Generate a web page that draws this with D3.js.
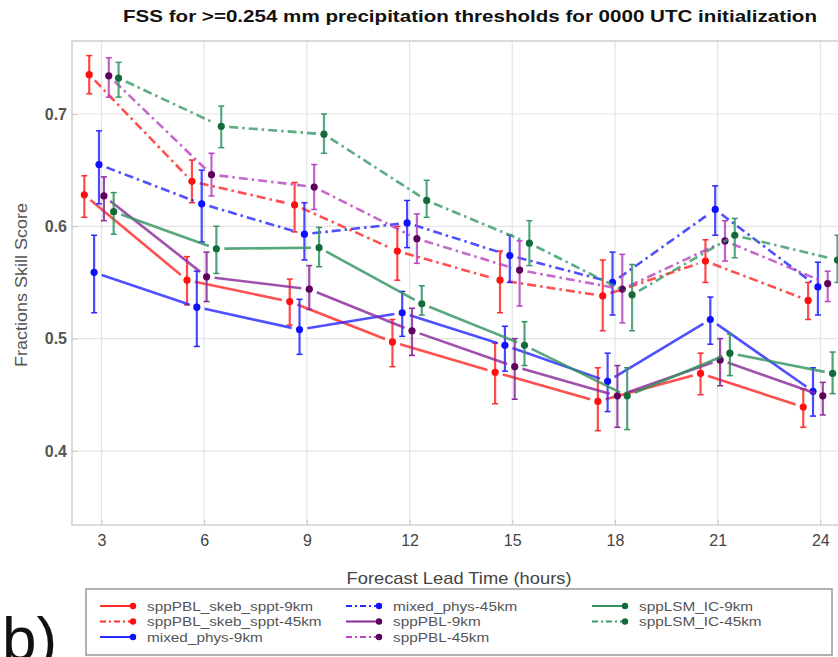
<!DOCTYPE html>
<html><head><meta charset="utf-8">
<script src="https://cdn.jsdelivr.net/npm/d3@7"></script>
<style>
body{margin:0;background:#fff;}
svg{display:block;font-family:"Liberation Sans",Arial,sans-serif;}
</style></head>
<body>
<svg id="c" width="838" height="657"></svg>
<script>
// ---- data ----
const hours = [3, 6, 9, 12, 15, 18, 21, 24];
const xTicks = [3, 6, 9, 12, 15, 18, 21, 24];
const yTicks = [0.4, 0.5, 0.6, 0.7];

const seriesNames = ["sppPBL_skeb_sppt-9km", "sppPBL_skeb_sppt-45km", "mixed_phys-9km", "mixed_phys-45km",
                     "sppPBL-9km", "sppPBL-45km", "sppLSM_IC-9km", "sppLSM_IC-45km"];

const red9     = [0.628, 0.552, 0.533, 0.497, 0.470, 0.444, 0.469, 0.439];
const red9Lo   = [0.608, 0.530, 0.512, 0.475, 0.442, 0.418, 0.450, 0.421];
const red9Hi   = [0.645, 0.573, 0.553, 0.517, 0.496, 0.474, 0.487, 0.455];
const red45    = [0.735, 0.640, 0.619, 0.578, 0.552, 0.538, 0.569, 0.534];
const red45Lo  = [0.718, 0.621, 0.595, 0.552, 0.523, 0.507, 0.550, 0.517];
const red45Hi  = [0.752, 0.659, 0.639, 0.600, 0.578, 0.570, 0.588, 0.550];
const blue9    = [0.559, 0.528, 0.508, 0.523, 0.494, 0.462, 0.517, 0.453];
const blue9Lo  = [0.523, 0.493, 0.486, 0.502, 0.471, 0.435, 0.495, 0.431];
const blue9Hi  = [0.592, 0.560, 0.535, 0.542, 0.511, 0.487, 0.537, 0.474];
const blue45   = [0.655, 0.620, 0.593, 0.603, 0.574, 0.550, 0.615, 0.546];
const blue45Lo = [0.620, 0.586, 0.570, 0.581, 0.550, 0.521, 0.592, 0.521];
const blue45Hi = [0.685, 0.650, 0.621, 0.623, 0.592, 0.577, 0.636, 0.568];
const purple9    = [0.627, 0.555, 0.544, 0.507, 0.475, 0.449, 0.481, 0.449];
const purple9Lo  = [0.605, 0.533, 0.526, 0.485, 0.446, 0.421, 0.458, 0.432];
const purple9Hi  = [0.644, 0.577, 0.565, 0.527, 0.500, 0.476, 0.500, 0.461];
const purple45   = [0.734, 0.646, 0.635, 0.589, 0.561, 0.544, 0.587, 0.549];
const purple45Lo = [0.715, 0.627, 0.615, 0.567, 0.529, 0.514, 0.569, 0.533];
const purple45Hi = [0.750, 0.665, 0.655, 0.611, 0.587, 0.575, 0.605, 0.560];
const green9    = [0.613, 0.580, 0.581, 0.531, 0.494, 0.449, 0.487, 0.469];
const green9Lo  = [0.593, 0.558, 0.564, 0.521, 0.476, 0.419, 0.467, 0.451];
const green9Hi  = [0.630, 0.600, 0.599, 0.547, 0.515, 0.474, 0.504, 0.488];
const green45   = [0.732, 0.689, 0.682, 0.623, 0.585, 0.539, 0.592, 0.570];
const green45Lo = [0.715, 0.670, 0.665, 0.608, 0.565, 0.507, 0.572, 0.550];
const green45Hi = [0.746, 0.707, 0.700, 0.641, 0.605, 0.566, 0.607, 0.592];

const seriesValues = [red9, red45, blue9, blue45, purple9, purple45, green9, green45];
const seriesLo = [red9Lo, red45Lo, blue9Lo, blue45Lo, purple9Lo, purple45Lo, green9Lo, green45Lo];
const seriesHi = [red9Hi, red45Hi, blue9Hi, blue45Hi, purple9Hi, purple45Hi, green9Hi, green45Hi];

// ---- styles ----
const lineColors = ["#ff2a2a", "#ff2a2a", "#2a2aff", "#2a2aff", "#8a2a9a", "#b845c0", "#339460", "#3a9a68"];
const markColors = ["#ff1010", "#ff1010", "#1010ff", "#1010ff", "#5e005e", "#5e005e", "#146b3a", "#146b3a"];
const dashed = [false, true, false, true, false, true, false, true];
const dashPattern = "9,4,2.5,4";

const svg = d3.select("#c");
const plot = {left: 72, right: 870, top: 41, bottom: 525};

const x = d3.scaleLinear().domain([2.14, 25.45]).range([plot.left, plot.right]);
const y = d3.scaleLinear().domain([0.334, 0.765]).range([plot.bottom, plot.top]);

// grid
const g = svg.append("g");
g.selectAll(".vg").data(xTicks).enter().append("line")
  .attr("x1", d => x(d)).attr("x2", d => x(d)).attr("y1", plot.top).attr("y2", plot.bottom)
  .attr("stroke", "#e4e4e4").attr("stroke-width", 1.2);
g.selectAll(".hg").data(yTicks).enter().append("line")
  .attr("x1", plot.left).attr("x2", plot.right).attr("y1", d => y(d)).attr("y2", d => y(d))
  .attr("stroke", "#e4e4e4").attr("stroke-width", 1.2);

// frame
g.append("rect").attr("x", plot.left).attr("y", plot.top)
  .attr("width", plot.right - plot.left).attr("height", plot.bottom - plot.top)
  .attr("fill", "none").attr("stroke", "#cfcfcf").attr("stroke-width", 1.5);

// axes (tick labels)
const xAxis = d3.axisBottom(x).tickValues(xTicks).tickSize(-5).tickPadding(9).tickFormat(d3.format("d"));
const xa = svg.append("g").attr("transform", `translate(0,${plot.bottom})`).call(xAxis);
xa.select(".domain").remove();
xa.selectAll(".tick line").attr("stroke", "#c8c8c8");
xa.selectAll("text").attr("font-size", 16).attr("fill", "#444").attr("font-family", "Liberation Sans, Arial, sans-serif").attr("dy", "0.75em");

const yAxis = d3.axisLeft(y).tickValues(yTicks).tickSize(-5).tickPadding(5).tickFormat(d3.format(".1f"));
const ya = svg.append("g").attr("transform", `translate(${plot.left},0)`).call(yAxis);
ya.select(".domain").remove();
ya.selectAll(".tick line").attr("stroke", "#c8c8c8");
ya.selectAll("text").attr("font-size", 16).attr("font-weight", "bold").attr("fill", "#555").attr("font-family", "Liberation Sans, Arial, sans-serif");

// title & labels
svg.append("text").attr("x", 470).attr("y", 22).attr("text-anchor", "middle")
  .attr("font-size", 17).attr("font-weight", "bold").attr("fill", "#111")
  .attr("textLength", 694).attr("lengthAdjust", "spacingAndGlyphs")
  .text("FSS for >=0.254 mm precipitation thresholds for 0000 UTC initialization");
svg.append("text").attr("transform", "translate(27,285) rotate(-90)").attr("text-anchor", "middle")
  .attr("font-size", 17).attr("fill", "#555")
  .attr("textLength", 164).attr("lengthAdjust", "spacingAndGlyphs")
  .text("Fractions Skill Score");
svg.append("text").attr("x", 459).attr("y", 584).attr("text-anchor", "middle")
  .attr("font-size", 17).attr("fill", "#444")
  .attr("textLength", 225).attr("lengthAdjust", "spacingAndGlyphs")
  .text("Forecast Lead Time (hours)");
svg.append("text").attr("x", 2).attr("y", 660).attr("font-size", 62).attr("fill", "#111").text("b)");

// series
const offsets = seriesNames.map((_, i) => (i - 3.5) / 7);
const gap = 8;
const dataG = svg.append("g");
seriesNames.forEach((name, i) => {
  const pts = hours.map((h, j) => ({px: x(h + offsets[i]), py: y(seriesValues[i][j]),
                                    lo: y(seriesLo[i][j]), hi: y(seriesHi[i][j])}));
  const sg = dataG.append("g");
  for (let j = 0; j < pts.length - 1; j++) {
    const a = pts[j], b = pts[j + 1];
    const dx = b.px - a.px, dy = b.py - a.py, L = Math.hypot(dx, dy);
    const ux = dx / L, uy = dy / L;
    sg.append("line")
      .attr("x1", a.px + ux * gap).attr("y1", a.py + uy * gap)
      .attr("x2", b.px - ux * gap).attr("y2", b.py - uy * gap)
      .attr("stroke", lineColors[i]).attr("stroke-width", 2.6).attr("stroke-opacity", 0.82)
      .attr("stroke-dasharray", dashed[i] ? dashPattern : null);
  }
  sg.selectAll(".eb").data(pts).enter().append("line")
    .attr("x1", d => d.px).attr("x2", d => d.px).attr("y1", d => d.lo).attr("y2", d => d.hi)
    .attr("stroke", lineColors[i]).attr("stroke-width", 2.2).attr("stroke-opacity", 0.85);
  sg.selectAll(".cl").data(pts).enter().append("line")
    .attr("x1", d => d.px - 3).attr("x2", d => d.px + 3).attr("y1", d => d.lo).attr("y2", d => d.lo)
    .attr("stroke", lineColors[i]).attr("stroke-width", 1.5);
  sg.selectAll(".ch").data(pts).enter().append("line")
    .attr("x1", d => d.px - 3).attr("x2", d => d.px + 3).attr("y1", d => d.hi).attr("y2", d => d.hi)
    .attr("stroke", lineColors[i]).attr("stroke-width", 1.5);
  sg.selectAll(".pt").data(pts).enter().append("circle")
    .attr("cx", d => d.px).attr("cy", d => d.py).attr("r", 3.6)
    .attr("fill", markColors[i]);
});

// legend
const leg = svg.append("g");
leg.append("rect").attr("x", 86).attr("y", 589).attr("width", 746).attr("height", 66)
  .attr("fill", "#fff").attr("stroke", "#999").attr("stroke-width", 1.5);
const colX = [100, 346, 592];
const rowY = [606, 621.5, 637];
seriesNames.forEach((name, i) => {
  const col = Math.floor(i / 3), row = i % 3;
  const lx = colX[col], ly = rowY[row];
  leg.append("line").attr("x1", lx).attr("x2", lx + 33).attr("y1", ly).attr("y2", ly)
    .attr("stroke", lineColors[i]).attr("stroke-width", 2.2)
    .attr("stroke-dasharray", dashed[i] ? "6,3,2,3" : null);
  leg.append("circle").attr("cx", lx + 33).attr("cy", ly).attr("r", 3.2).attr("fill", markColors[i]);
  leg.append("text").attr("transform", `translate(${lx + 47},${ly + 4.5}) scale(1.18,1)`)
    .attr("font-size", 13).attr("fill", "#555")
    .text(name);
});
</script>
</body></html>
